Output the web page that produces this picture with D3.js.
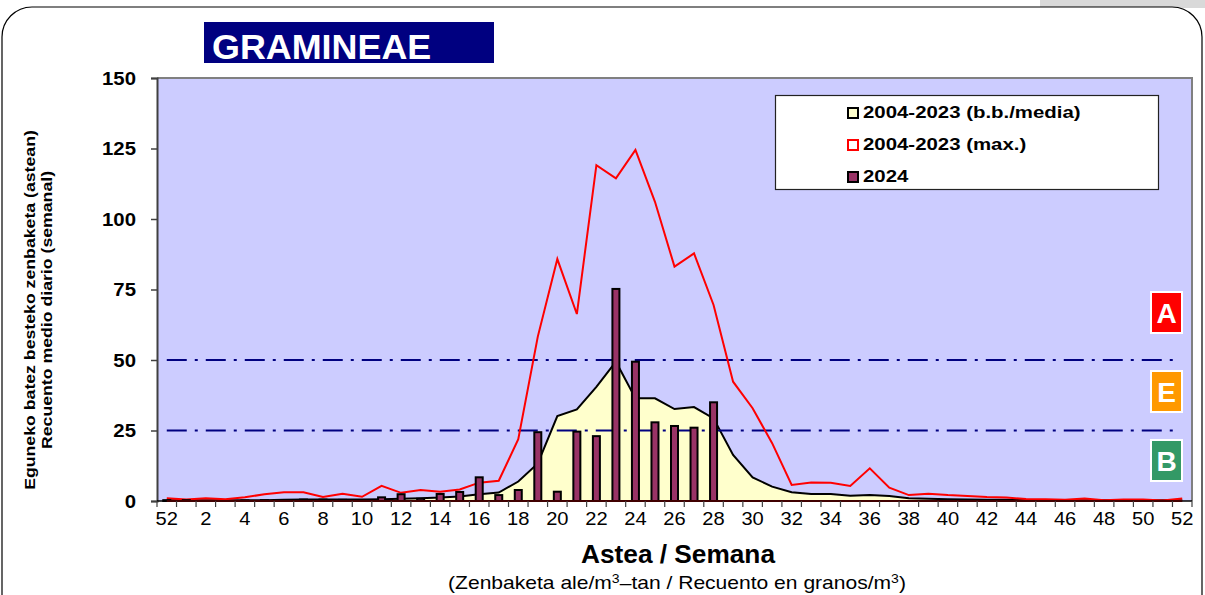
<!DOCTYPE html>
<html>
<head>
<meta charset="utf-8">
<script src="https://cdn.jsdelivr.net/npm/d3@7"></script>
<style>
  body { margin: 0; background: #fff; font-family: "Liberation Sans", Arial, sans-serif; }
  svg text { font-family: "Liberation Sans", Arial, sans-serif; }
</style>
</head>
<body>
<script>
// weeks: 52 of previous year, then 1..52
const weeks = ["52"].concat(d3.range(1, 53).map(String));

// 2004-2023 average (b.b./media)
const meanValues = [0.3, 0.3, 0.3, 0.3, 0.3, 0.3, 0.4, 0.5, 0.5, 0.5, 0.5, 0.6, 0.8, 1.0, 1.2, 1.6,
  2.4, 3.0, 6.9, 13.3, 30.1, 32.5, 40.5, 49.4, 36.4, 36.4, 32.6, 33.3, 29.3, 16.3,
  8.4, 5.1, 3.1, 2.5, 2.5, 1.9, 2.1, 1.8, 1.0, 0.8, 0.6, 0.5, 0.4, 0.4, 0.3, 0.3,
  0.3, 0.3, 0.3, 0.3, 0.3, 0.3, 0.3];

// 2004-2023 maximum
const maxValues = [1.0, 0.5, 1.0, 0.6, 1.3, 2.4, 3.1, 3.1, 1.4, 2.6, 1.5, 5.4, 2.9, 3.9, 3.3, 4.1,
  6.5, 7.2, 21.9, 58.3, 85.8, 66.3, 119.1, 114.4, 124.5, 106.1, 83.1, 87.8, 69.5, 42.3,
  32.9, 20.5, 5.7, 6.6, 6.5, 5.3, 11.6, 4.7, 2.1, 2.6, 2.1, 1.8, 1.4, 1.2, 0.7, 0.6,
  0.4, 0.9, 0.3, 0.5, 0.5, 0.2, 0.9];

// 2024 weekly values
const values2024 = [0.3, 0.3, 0, 0, 0.2, 0.3, 0.3, 0.5, 0.5, 0.4, 0.3, 1.3, 2.4, 0.8, 2.5, 3.2,
  8.4, 2.1, 3.9, 24.4, 3.3, 24.6, 23.0, 75.2, 49.4, 27.9, 26.6, 26.0, 35.0, 0,
  0, 0, 0, 0, 0, 0, 0, 0, 0, 0, 0, 0, 0, 0, 0, 0,
  0, 0, 0, 0, 0, 0, 0];

const yTicks = [0, 25, 50, 75, 100, 125, 150];
const thresholds = [25, 50];
const levelLabels = ["A", "E", "B"];
const levelColors = ["#ff0000", "#ff9900", "#339966"];
const legendLabels = ["2004-2023 (b.b./media)", "2004-2023 (max.)", "2024"];

const W = 1205, H = 595;
const plot = { left: 157, right: 1192, top: 78, bottom: 501 };
const SX = 1.18; // the source picture is a bit stretched horizontally

const svg = d3.select("body").append("svg")
  .attr("width", W).attr("height", H);

// stretched text helper
function stext(parent, tx, ty, sx) {
  return parent.append("g").attr("transform", `translate(${tx},${ty}) scale(${sx},1)`)
    .append("text");
}

// outer rounded frame
svg.append("rect").attr("x", 1040).attr("y", 0).attr("width", 165).attr("height", 8).attr("fill", "#d9d9d9");
svg.append("rect")
  .attr("x", 2).attr("y", 7).attr("width", 1200).attr("height", 640)
  .attr("rx", 30).attr("ry", 30)
  .attr("fill", "#fff").attr("stroke", "#000").attr("stroke-width", 1.2);

const x = d3.scaleBand().domain(d3.range(weeks.length)).range([plot.left, plot.right]);
const cx = i => x(i) + x.bandwidth() / 2;
const y = d3.scaleLinear().domain([0, 150]).range([plot.bottom, plot.top]);

// plot background
svg.append("rect")
  .attr("x", plot.left).attr("y", plot.top)
  .attr("width", plot.right - plot.left).attr("height", plot.bottom - plot.top)
  .attr("fill", "#ccccff");
svg.append("path")
  .attr("d", `M${plot.left},${plot.top}H${plot.right}V${plot.bottom}`)
  .attr("fill", "none").attr("stroke", "#808080").attr("stroke-width", 2);

// mean area
const area = d3.area().x((d, i) => cx(i)).y0(y(0)).y1(d => y(d));
const line = d3.line().x((d, i) => cx(i)).y(d => y(d));
svg.append("path").datum(meanValues).attr("d", area).attr("fill", "#ffffcc");
svg.append("path").datum(meanValues).attr("d", line)
  .attr("fill", "none").attr("stroke", "#000").attr("stroke-width", 2);

// threshold lines
svg.selectAll(".thr").data(thresholds).enter().append("line")
  .attr("x1", cx(0)).attr("x2", cx(weeks.length - 1) - 4)
  .attr("y1", d => y(d)).attr("y2", d => y(d))
  .attr("stroke", "#000080").attr("stroke-width", 2)
  .attr("stroke-dasharray", "20,8,3,8");

// max line
svg.append("path").datum(maxValues).attr("d", line)
  .attr("fill", "none").attr("stroke", "#ff0000").attr("stroke-width", 2);

// 2024 bars
const bw = 7;
svg.selectAll("rect.bar").data(values2024.map((v, i) => ({ v, i })).filter(d => d.v > 0))
  .enter().append("rect").attr("class", "bar")
  .attr("x", d => cx(d.i) - bw / 2)
  .attr("y", d => y(d.v))
  .attr("width", bw)
  .attr("height", d => y(0) - y(d.v))
  .attr("fill", "#993366").attr("stroke", "#000").attr("stroke-width", 2);

// red zero line
svg.append("line")
  .attr("x1", cx(0)).attr("x2", cx(weeks.length - 1))
  .attr("y1", y(0)).attr("y2", y(0))
  .attr("stroke", "#ff0000").attr("stroke-width", 2);

// y axis
const yAxis = d3.axisLeft(y).tickValues(yTicks).tickSize(6).tickFormat("");
const yg = svg.append("g").attr("transform", `translate(${plot.left},0)`).call(yAxis);
yg.select(".domain").attr("stroke", "#404040").attr("stroke-width", 2);
yg.selectAll(".tick line").attr("stroke", "#404040").attr("stroke-width", 1.5);
yTicks.forEach(v => {
  stext(svg, 136, y(v) + 6.5, 1.1)
    .attr("text-anchor", "end").attr("font-size", 18.5).attr("font-weight", "bold")
    .text(v);
});

// x axis
const xg = svg.append("g").attr("transform", `translate(0,${plot.bottom})`);
xg.append("line").attr("x1", plot.left).attr("x2", plot.right).attr("y1", 0).attr("y2", 0)
  .attr("stroke", "#000").attr("stroke-width", 1.5);
xg.selectAll(".xt").data(d3.range(weeks.length + 1)).enter().append("line")
  .attr("x1", i => plot.left + i * x.step()).attr("x2", i => plot.left + i * x.step())
  .attr("y1", 0).attr("y2", 6).attr("stroke", "#404040").attr("stroke-width", 1.2);
d3.range(weeks.length).filter(i => i % 2 === 0).forEach(i => {
  stext(xg, cx(i), 24, 1.15)
    .attr("text-anchor", "middle").attr("font-size", 17.5)
    .text(weeks[i]);
});

// axis titles
stext(svg, 678, 563, 1.05).attr("text-anchor", "middle")
  .attr("font-size", 25).attr("font-weight", "bold").text("Astea / Semana");
const sub = stext(svg, 677, 589, 1.17).attr("text-anchor", "middle")
  .attr("font-size", 18);
sub.append("tspan").text("(Zenbaketa ale/m");
sub.append("tspan").attr("baseline-shift", "super").attr("font-size", 12).text("3");
sub.append("tspan").text("–tan / Recuento en granos/m");
sub.append("tspan").attr("baseline-shift", "super").attr("font-size", 12).text("3");
sub.append("tspan").text(")");

const yt = svg.append("g").attr("transform", "translate(35,310) rotate(-90)");
stext(yt, 0, 0, SX).attr("text-anchor", "middle")
  .attr("font-size", 15).attr("font-weight", "bold").text("Eguneko batez besteko zenbaketa (astean)");
stext(yt, 0, 17, SX).attr("text-anchor", "middle")
  .attr("font-size", 15).attr("font-weight", "bold").text("Recuento medio diario (semanal)");

// title
svg.append("rect").attr("x", 204).attr("y", 22).attr("width", 290).attr("height", 41).attr("fill", "#000080");
stext(svg, 212, 59, 1.04).attr("font-size", 34.5).attr("font-weight", "bold")
  .attr("fill", "#fff").text("GRAMINEAE");

// legend
svg.append("rect").attr("x", 775.5).attr("y", 95.5).attr("width", 383).attr("height", 94)
  .attr("fill", "#fff").attr("stroke", "#222").attr("stroke-width", 1.2);
const legendFill = ["#ffffcc", "#ffffff", "#993366"];
const legendStroke = ["#000", "#ff0000", "#000"];
legendLabels.forEach((label, i) => {
  const ly = 113 + i * 32;
  svg.append("rect").attr("x", 848).attr("y", ly - 5).attr("width", 10).attr("height", 10)
    .attr("fill", legendFill[i]).attr("stroke", legendStroke[i]).attr("stroke-width", 2);
  stext(svg, 863, ly + 4.5, 1.2).attr("font-size", 17).attr("font-weight", "bold").text(label);
});

// level markers
const levelBoxes = [[292, 333], [371, 412], [440, 481]];
levelLabels.forEach((lab, i) => {
  const [y0, y1] = levelBoxes[i];
  svg.append("rect").attr("x", 1151).attr("y", y0).attr("width", 31).attr("height", y1 - y0)
    .attr("fill", levelColors[i]).attr("stroke", "#fff").attr("stroke-width", 2);
  svg.append("text").attr("x", 1166.5).attr("y", (y0 + y1) / 2 + 10)
    .attr("text-anchor", "middle").attr("font-size", 28).attr("font-weight", "bold")
    .attr("fill", "#fff").text(lab);
});
</script>
</body>
</html>
